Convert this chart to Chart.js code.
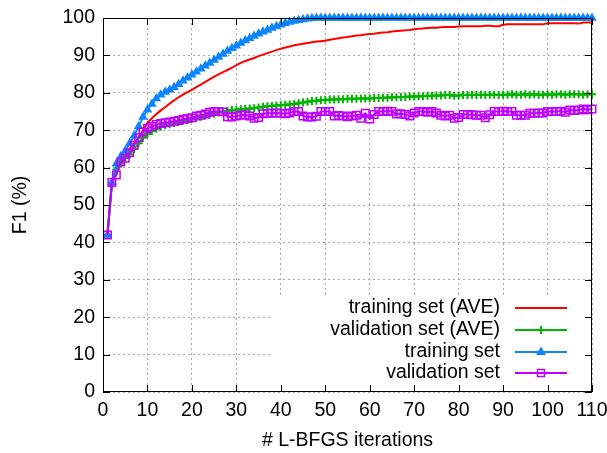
<!DOCTYPE html>
<html>
<head>
<meta charset="utf-8">
<script src="https://cdn.jsdelivr.net/npm/chart.js@4.4.1/dist/chart.umd.min.js"></script>
<style>
  body { margin: 0; background: #fff; }
  #wrap { width: 607px; height: 453px; }
</style>
</head>
<body>
<div id="wrap"><canvas id="f1Chart" width="607" height="453"></canvas></div>
<script>
// iterations on the x axis
const iterations = [1,2,3,4,5,6,7,8,9,10,11,12,13,14,15,16,17,18,19,20,21,22,23,24,25,26,27,28,29,30,
  31,32,33,34,35,36,37,38,39,40,41,42,43,44,45,46,47,48,49,50,51,52,53,54,55,56,57,58,59,60,
  61,62,63,64,65,66,67,68,69,70,71,72,73,74,75,76,77,78,79,80,81,82,83,84,85,86,87,88,89,90,
  91,92,93,94,95,96,97,98,99,100,101,102,103,104,105,106,107,108,109,110];

const trainAve = [42,56,60,62,63.5,65,66.5,68,70,72,
  73.2,74.3,75.3,76.2,77.1,78,78.8,79.5,80.2,80.8,
  81.5,82.2,82.9,83.6,84.3,84.9,85.5,86.1,86.7,87.4,
  88,88.5,88.9,89.3,89.8,90.2,90.6,91,91.4,91.8,
  92.1,92.4,92.7,92.9,93.1,93.3,93.5,93.7,93.8,93.9,
  94.2,94.4,94.6,94.8,94.9,95.1,95.3,95.4,95.6,95.7,
  95.8,96,96.1,96.2,96.4,96.5,96.6,96.7,96.8,97,
  97.1,97.2,97.3,97.4,97.4,97.5,97.6,97.6,97.6,97.7,
  97.8,97.8,97.8,97.8,97.8,97.9,97.9,97.8,97.8,98.2,
  98.3,98.3,98.3,98.3,98.3,98.3,98.3,98.3,98.3,98.6,
  98.6,98.6,98.6,98.6,98.6,98.6,98.5,98.8,98.8,98.8];

const valAve = [42,55.5,59.5,61,62.5,63.5,65,66.5,68,69,
  69.8,70.4,70.9,71.3,71.6,71.9,72.2,72.5,72.7,73,
  73.3,73.6,73.9,74.1,74.4,74.7,75,75.2,75.4,75.5,
  75.6,75.7,75.8,75.9,76.1,76.3,76.4,76.5,76.6,76.7,
  76.8,76.9,77,77.2,77.4,77.6,77.8,77.9,78,78.1,
  78.2,78.2,78.3,78.3,78.4,78.4,78.4,78.5,78.5,78.5,
  78.6,78.6,78.7,78.7,78.8,78.8,78.9,78.9,79,79,
  79.1,79.1,79.2,79.2,79.3,79.3,79.4,79.4,79.2,79.3,
  79.4,79.4,79.5,79.4,79.5,79.4,79.5,79.5,79.4,79.5,
  79.5,79.6,79.5,79.5,79.6,79.5,79.6,79.5,79.5,79.6,
  79.5,79.6,79.6,79.5,79.6,79.6,79.6,79.5,79.6,79.6];

const trainSet = [42,56,61,63,64.5,66.5,68.5,71,73.5,75.5,
  77,78.5,79.5,80.2,80.8,81.5,82.3,83.2,84,84.8,
  85.6,86.4,87.2,88,88.8,89.6,90.4,91.2,91.9,92.6,
  93.3,94,94.6,95.2,95.8,96.3,96.8,97.3,97.8,98.2,
  98.6,98.9,99.2,99.4,99.6,99.8,99.9,100,100,100,
  100,100,100,100,100,100,100,100,100,100,
  100,100,100,100,100,100,100,100,100,100,
  100,100,100,100,100,100,100,100,100,100,
  100,100,100,100,100,100,100,100,100,100,
  100,100,100,100,100,100,100,100,100,100,
  100,100,100,100,100,100,100,100,100,100];

const valSet = [42,56,58,61.5,62.5,64,66,68,69.5,70.5,
  71,71.5,71.8,72,72.2,72.4,72.6,72.9,73.1,73.3,
  73.8,74,74.3,74.8,75,75,74.9,73.6,73.5,73.8,
  74,74.1,73.8,73.2,73.4,74.4,74.5,74.5,74.6,74.5,
  74.4,74.6,75,75,73.8,73.5,73.5,73.7,75,75,
  75,73.8,73.9,73.8,73.6,73.8,74,73.2,74.5,73,
  74.2,75,75,75.1,75,74.3,74.4,74.2,73.8,74.6,
  75,75,74.8,75,74.6,74,73.8,74,73.2,73.4,
  74.2,74.2,74.1,74,74,73.3,74.1,75,75,75.1,
  75,75,74,74,74,74.5,74.5,74.6,74.6,75,
  75,75,75.1,74.8,75.4,75.3,75.4,75.7,75.5,75.7];

const xTicks = [0,10,20,30,40,50,60,70,80,90,100,110];
const yTicks = [0,10,20,30,40,50,60,70,80,90,100];

const seriesNames = ['training set (AVE)', 'validation set (AVE)', 'training set', 'validation set'];
const seriesColors = ['#ff0000', '#00b400', '#0a84ff', '#c000ff'];

const FONT = "'Liberation Sans', Arial, sans-serif";
const FSIZE = 19.5;

function drawMarker(ctx, kind, x, y, color) {
  ctx.save();
  ctx.strokeStyle = color;
  ctx.fillStyle = color;
  if (kind === 'cross') {
    ctx.lineWidth = 2;
    ctx.beginPath();
    ctx.moveTo(x, y - 4); ctx.lineTo(x, y + 4);
    ctx.moveTo(x - 4, y); ctx.lineTo(x + 4, y);
    ctx.stroke();
  } else if (kind === 'triangle') {
    ctx.beginPath();
    ctx.moveTo(x, y - 5.5); ctx.lineTo(x + 5, y + 3); ctx.lineTo(x - 5, y + 3);
    ctx.closePath();
    ctx.fill();
  } else if (kind === 'rect') {
    ctx.lineWidth = 1.5;
    ctx.strokeRect(x - 3.5, y - 3.5, 7, 7);
  }
  ctx.restore();
}

// gnuplot style box, inner ticks and key
const frameAndKey = {
  id: 'frameAndKey',
  beforeDatasetsDraw(chart) {
    const { ctx, chartArea: a } = chart;
    ctx.save();
    ctx.fillStyle = '#fff';
    ctx.fillRect(a.right - 322, a.bottom - 95, 321, 94);
    ctx.restore();
  },
  afterDraw(chart) {
    const { ctx, chartArea: a, scales } = chart;
    ctx.save();
    ctx.strokeStyle = '#000';
    ctx.lineWidth = 1;
    ctx.strokeRect(a.left + 0.5, a.top + 0.5, a.right - a.left - 1, a.bottom - a.top - 1);
    ctx.beginPath();
    xTicks.forEach(v => {
      const px = Math.round(scales.x.getPixelForValue(v)) + 0.5;
      ctx.moveTo(px, a.bottom); ctx.lineTo(px, a.bottom - 7);
      ctx.moveTo(px, a.top); ctx.lineTo(px, a.top + 7);
    });
    yTicks.forEach(v => {
      const py = Math.round(scales.y.getPixelForValue(v)) + 0.5;
      ctx.moveTo(a.left, py); ctx.lineTo(a.left + 7, py);
      ctx.moveTo(a.right, py); ctx.lineTo(a.right - 7, py);
    });
    ctx.stroke();

    const kinds = ['none', 'cross', 'triangle', 'rect'];
    const rows = [84, 62, 40, 19];
    ctx.font = FSIZE + 'px ' + FONT;
    ctx.textAlign = 'right';
    ctx.textBaseline = 'middle';
    seriesNames.forEach((name, i) => {
      const y = a.bottom - rows[i];
      ctx.fillStyle = '#000';
      ctx.fillText(name, a.right - 92, y);
      ctx.strokeStyle = seriesColors[i];
      ctx.lineWidth = 2;
      ctx.beginPath();
      ctx.moveTo(a.right - 77, y); ctx.lineTo(a.right - 25, y);
      ctx.stroke();
      drawMarker(ctx, kinds[i], a.right - 51, y, seriesColors[i]);
    });
    ctx.restore();
  }
};

const ctx = document.getElementById('f1Chart').getContext('2d');
new Chart(ctx, {
  type: 'line',
  data: {
    labels: iterations,
    datasets: [
      {
        label: seriesNames[3], data: valSet,
        borderColor: seriesColors[3], borderWidth: 2,
        pointStyle: 'rect', pointRadius: 5.3, pointBorderWidth: 1.5,
        pointBorderColor: seriesColors[3], pointBackgroundColor: 'rgba(0,0,0,0)',
        clip: false
      },
      {
        label: seriesNames[2], data: trainSet,
        borderColor: seriesColors[2], borderWidth: 2,
        pointStyle: 'triangle', pointRadius: 5.5, pointBorderWidth: 0,
        pointBackgroundColor: seriesColors[2], pointBorderColor: seriesColors[2],
        clip: false
      },
      {
        label: seriesNames[1], data: valAve,
        borderColor: seriesColors[1], borderWidth: 2,
        pointStyle: 'cross', pointRadius: 4, pointBorderWidth: 2,
        pointBorderColor: seriesColors[1],
        clip: false
      },
      {
        label: seriesNames[0], data: trainAve,
        borderColor: seriesColors[0], borderWidth: 2,
        pointRadius: 0,
        clip: false
      }
    ]
  },
  options: {
    responsive: false,
    animation: false,
    layout: { padding: { left: 0, right: 15, top: 18, bottom: 0 } },
    elements: { line: { tension: 0 } },
    scales: {
      x: {
        type: 'linear',
        min: 0, max: 110,
        afterFit(scale) {
          scale.height = 61;
          scale.paddingLeft = 0;
          scale.paddingRight = 0;
        },
        afterBuildTicks(scale) { scale.ticks = xTicks.map(v => ({ value: v })); },
        ticks: { color: '#000', padding: 7, font: { family: FONT, size: FSIZE } },
        grid: { color: '#a8a8a8', lineWidth: 1, drawTicks: false },
        border: { display: false, dash: [2, 3] },
        title: {
          display: true, text: '# L-BFGS iterations', color: '#000',
          padding: { top: 1, bottom: 1 }, font: { family: FONT, size: FSIZE }
        }
      },
      y: {
        min: 0, max: 100,
        afterFit(scale) {
          scale.width = 103;
          scale.paddingTop = 0;
          scale.paddingBottom = 0;
        },
        afterBuildTicks(scale) { scale.ticks = yTicks.map(v => ({ value: v })); },
        ticks: { color: '#000', padding: 8, font: { family: FONT, size: FSIZE } },
        grid: { color: '#a8a8a8', lineWidth: 1, drawTicks: false },
        border: { display: false, dash: [2, 3] },
        title: {
          display: true, text: 'F1 (%)', color: '#000',
          padding: { top: 9, bottom: 9 }, font: { family: FONT, size: FSIZE }
        }
      }
    },
    plugins: {
      legend: { display: false },
      tooltip: { enabled: false }
    }
  },
  plugins: [frameAndKey]
});
</script>
</body>
</html>
